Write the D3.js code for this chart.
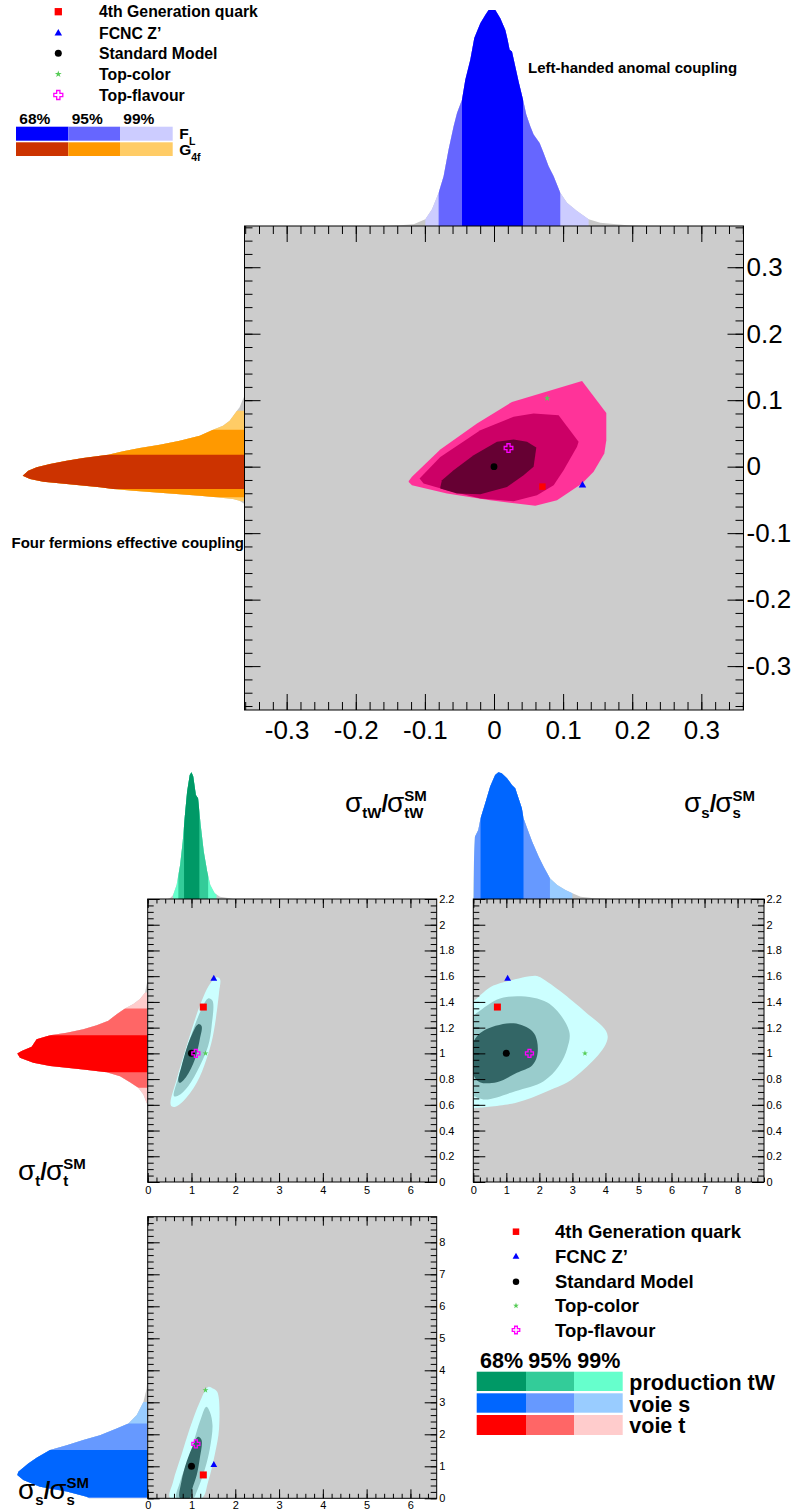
<!DOCTYPE html>
<html><head><meta charset="utf-8">
<script src="https://cdn.jsdelivr.net/npm/d3@7"></script>
<style>body{margin:0;background:#fff}svg{display:block}</style>
</head><body><svg id="c" width="795" height="1511"></svg>
<script>
// ================= DATA =================
const modelNames = ["4th Generation quark", "FCNC Z’", "Standard Model", "Top-color", "Top-flavour"];
const modelFL    = [0.070, 0.128, 0.000, 0.077, 0.021];
const modelG4f   = [-0.030, -0.028, 0.000, 0.103, 0.028];
const modelSigmaTW = [1.27, 1.51, 1.00, 1.32, 1.10];
const modelSigmaT  = [1.36, 1.58, 1.00, 1.00, 1.00];
const modelSigmaS  = [0.73, 1.04, 1.00, 3.38, 1.70];

const confLevels = ["68%", "95%", "99%"];
const mainTicks = [-0.3, -0.2, -0.1, 0, 0.1, 0.2, 0.3];
const sigmaTWTicks = [0, 1, 2, 3, 4, 5, 6];
const sigmaTTicks = [0, 0.2, 0.4, 0.6, 0.8, 1, 1.2, 1.4, 1.6, 1.8, 2, 2.2];
const sigmaSTicks = [0, 1, 2, 3, 4, 5, 6, 7, 8];

// marginal: left-handed anomalous coupling F_L
const flX = [-0.160,-0.1356,-0.1163,-0.0994,-0.0897,-0.0801,-0.0729,-0.0657,-0.0584,-0.0535,-0.0463,-0.0415,-0.0343,-0.0285,-0.0198,-0.0126,-0.0078,0.0019,0.0091,0.0164,0.0197,0.0226,0.0260,0.0308,0.0356,0.0420,0.0467,0.0525,0.0573,0.0660,0.0718,0.0790,0.0863,0.0959,0.1056,0.1201,0.1369,0.1538,0.1925,0.220];
const flDensity = [0,0.003,0.008,0.031,0.077,0.153,0.230,0.353,0.460,0.521,0.583,0.675,0.767,0.867,0.936,0.974,0.997,0.997,0.959,0.905,0.859,0.813,0.805,0.736,0.667,0.583,0.514,0.460,0.422,0.383,0.337,0.276,0.230,0.153,0.107,0.069,0.031,0.015,0.003,0];
const flBands = [[-0.0463, 0.0420], [-0.0801, 0.0959], [-0.0994, 0.1369]];

// marginal: four-fermion effective coupling G_4f
const g4fY = [0.1068,0.0992,0.0892,0.0842,0.0692,0.0617,0.0556,0.0466,0.0391,0.0331,0.0281,0.0231,0.0180,0.0130,0.0090,0.0040,-0.0010,-0.0060,-0.0135,-0.0185,-0.0226,-0.0261,-0.0311,-0.0336,-0.0361,-0.0401,-0.0436,-0.0461,-0.0486,-0.0511,-0.0561];
const g4fDensity = [0,0.010,0.022,0.034,0.067,0.097,0.142,0.202,0.292,0.382,0.472,0.547,0.615,0.727,0.802,0.877,0.937,0.975,1.0,0.967,0.907,0.802,0.652,0.592,0.502,0.352,0.202,0.127,0.052,0.022,0];
const g4fBands = [[-0.0336, 0.0180], [-0.0461, 0.0556], [-0.0520, 0.0842]];

// 2D confidence contours F_L (x) vs G_4f (y)
const mainC99 = [[-0.1234,-0.0214],[-0.1187,-0.0153],[-0.0777,0.0259],[-0.0246,0.0650],[0.0260,0.0974],[0.1274,0.1290],[0.1625,0.0809],[0.1625,0.0398],[0.1596,0.0198],[0.1441,-0.0078],[0.1274,-0.0253],[0.0912,-0.0504],[0.0598,-0.0589],[-0.0054,-0.0504],[-0.0680,-0.0403],[-0.1187,-0.0278],[-0.1234,-0.0229]];
const mainC95 = [[-0.1077,-0.0177],[-0.0777,0.0147],[-0.0198,0.0549],[0.0284,0.0749],[0.0573,0.0800],[0.0935,0.0774],[0.1224,0.0373],[0.1201,0.0298],[0.1007,-0.0053],[0.0863,-0.0278],[0.0622,-0.0429],[0.0284,-0.0519],[-0.0198,-0.0478],[-0.0680,-0.0353],[-0.1019,-0.0253]];
const mainC68 = [[-0.0777,-0.0304],[-0.0753,-0.0203],[-0.0585,-0.0053],[-0.0295,0.0173],[0.0043,0.0373],[0.0284,0.0409],[0.0478,0.0373],[0.0612,0.0289],[0.0573,-0.0003],[0.0428,-0.0128],[0.0188,-0.0304],[-0.0198,-0.0414],[-0.0535,-0.0403],[-0.0777,-0.0328]];

// marginal: sigma_tW / sigma_tW^SM (production tW)
const twX = [0.45,0.51,0.58,0.66,0.74,0.80,0.85,0.90,0.96,1.00,1.04,1.10,1.15,1.21,1.28,1.36,1.43,1.53,1.65,1.87,1.95];
const twDensity = [0,0.005,0.032,0.110,0.268,0.453,0.663,0.847,0.979,1.0,0.966,0.821,0.795,0.584,0.374,0.216,0.111,0.045,0.018,0.005,0];
const twBands = [[0.83, 1.18], [0.70, 1.38], [0.58, 1.57]];

// marginal: sigma_t / sigma_t^SM (voie t)
const tY = [1.578,1.474,1.422,1.383,1.349,1.305,1.253,1.219,1.188,1.161,1.141,1.109,1.052,1.018,0.998,0.966,0.927,0.901,0.875,0.854,0.823,0.776,0.732,0.680,0.615,0.588];
const tDensity = [0,0.020,0.059,0.110,0.174,0.238,0.302,0.391,0.494,0.621,0.749,0.852,0.890,0.967,1.0,0.980,0.877,0.749,0.494,0.315,0.212,0.136,0.072,0.033,0.008,0];
const tBands = [[0.854, 1.141], [0.732, 1.349], [0.615, 1.474]];

// marginal: sigma_s / sigma_s^SM (voie s), above right panel
const sX = [0.0,0.02,0.05,0.15,0.22,0.36,0.51,0.66,0.76,0.86,1.02,1.17,1.27,1.37,1.47,1.52,1.63,1.78,1.98,2.13,2.32,2.54,2.79,3.0,3.25,3.66,4.2];
const sDensity = [0.01,0.295,0.492,0.545,0.637,0.755,0.887,0.979,1.0,0.992,0.953,0.900,0.874,0.795,0.716,0.637,0.558,0.453,0.334,0.255,0.163,0.111,0.071,0.045,0.018,0.005,0];
const sBands = [[0.22, 1.52], [0.02, 2.32], [0.0, 3.0]];

// marginal: sigma_s / sigma_s^SM (voie s), left of bottom panel
const sY2 = [3.95,3.43,3.01,2.60,2.34,2.18,1.97,1.82,1.66,1.51,1.27,1.09,0.83,0.73,0.57,0.36,0.21,0.05,0.0];
const sDensity2 = [0,0.008,0.033,0.084,0.148,0.238,0.366,0.494,0.621,0.749,0.852,0.916,0.992,1.0,0.954,0.826,0.621,0.468,0.45];
const sBands2 = [[0.03, 1.51], [0.0, 2.34], [0.0, 3.01]];

// 2D contours sigma_tW (x) vs sigma_t (y)
const twtC99 = [[0.547,0.588],[0.52,0.615],[0.66,0.797],[0.888,1.057],[1.19,1.37],[1.42,1.539],[1.57,1.591],[1.65,1.578],[1.63,1.474],[1.49,1.135],[1.34,0.953],[1.12,0.771],[0.81,0.627],[0.62,0.583]];
const twtC95 = [[0.60,0.667],[0.736,0.849],[0.96,1.109],[1.23,1.344],[1.38,1.427],[1.48,1.409],[1.46,1.213],[1.38,1.057],[1.19,0.901],[0.925,0.745],[0.70,0.672]];
const twtC68 = [[0.70,0.784],[0.774,0.901],[0.964,1.109],[1.153,1.227],[1.23,1.213],[1.19,1.109],[1.077,0.953],[0.888,0.823],[0.736,0.771]];

// 2D contours sigma_s (x) vs sigma_t (y)
const stC99 = [[0,0.576],[0,1.409],[0.02,1.409],[0.51,1.513],[0.915,1.552],[1.88,1.604],[2.03,1.591],[3.35,1.331],[4.07,1.13],[3.05,0.81],[2.24,0.706],[1.27,0.615],[0.05,0.576]];
const stC95 = [[0,0.667],[0,1.279],[0.20,1.331],[0.915,1.435],[2.24,1.396],[2.90,1.174],[2.85,1.044],[2.59,0.901],[2.13,0.784],[1.27,0.706],[0.36,0.641],[0.02,0.667]];
const stC68 = [[0,0.836],[0,1.084],[0.30,1.174],[1.22,1.234],[1.78,1.174],[1.93,1.096],[1.93,0.979],[1.78,0.906],[1.32,0.849],[0.71,0.776],[0.20,0.776]];

// 2D contours sigma_tW (x) vs sigma_s (y)
const twsC99 = [[0.51,0],[0.58,0.52],[0.77,1.35],[0.96,2.18],[1.19,3.01],[1.38,3.48],[1.49,3.43],[1.59,3.32],[1.63,2.18],[1.53,1.35],[1.38,0.52],[1.23,0]];
const twsC95 = [[0.66,0],[0.74,0.52],[0.96,1.35],[1.19,2.39],[1.34,2.86],[1.42,2.70],[1.48,2.28],[1.42,1.56],[1.31,0.935],[1.12,0.21],[1.04,0]];
const twsC68 = [[0.736,0],[0.77,0.52],[0.888,1.14],[1.04,1.66],[1.15,1.92],[1.23,1.82],[1.19,1.25],[1.12,0.73],[1.02,0.31],[0.96,0]];

// ================= STYLE =================
const FONT = "'Liberation Sans', Arial, Helvetica, sans-serif";
const BG = "#cccccc", TAIL = "#c8c8c8";
const markerTypes = ["square", "triangle", "circle", "star", "cross"];
const markerColors = ["#ff0000", "#0000ff", "#000000", "#55cc55", "#ff00ff"];
const colFL = ["#0000ff", "#6666ff", "#ccccff"];
const colG4f = ["#cc3300", "#ff9900", "#ffcc66"];
const colTW = ["#009966", "#33cc99", "#66ffcc"];
const colS = ["#0066ff", "#6699ff", "#99ccff"];
const colT = ["#ff0000", "#ff6666", "#ffcccc"];
const colPink = ["#660033", "#cc0066", "#ff3399"];
const colTeal = ["#336666", "#99cccc", "#ccffff"];

const svg = d3.select("#c").attr("font-family", FONT);
let clipN = 0;

// ================= HELPERS =================
function marker(g, type, color, cx, cy, s) {
  if (type === "square") {
    g.append("rect").attr("x", cx - s/2).attr("y", cy - s/2).attr("width", s).attr("height", s).attr("fill", color);
  } else if (type === "triangle") {
    g.append("path").attr("d", d3.symbol(d3.symbolTriangle, 0.433 * s * s)()).attr("transform", `translate(${cx},${cy})`).attr("fill", color);
  } else if (type === "circle") {
    g.append("circle").attr("cx", cx).attr("cy", cy).attr("r", s/2).attr("fill", color);
  } else if (type === "star") {
    g.append("path").attr("d", d3.symbol(d3.symbolStar, 0.3 * s * s)()).attr("transform", `translate(${cx},${cy})`).attr("fill", color);
  } else {
    const a = s/2, b = s/5.5;
    const pts = [[-b,-a],[b,-a],[b,-b],[a,-b],[a,b],[b,b],[b,a],[-b,a],[-b,b],[-a,b],[-a,-b],[-b,-b]];
    g.append("path").attr("d", "M" + pts.map(p => [cx + p[0], cy + p[1]].join(",")).join("L") + "Z")
      .attr("fill", "none").attr("stroke", color).attr("stroke-width", 1.3);
  }
}

function clipRect(x, y, w, h) {
  const id = "cl" + (clipN++);
  svg.append("clipPath").attr("id", id).append("rect").attr("x", x).attr("y", y).attr("width", w).attr("height", h);
  return `url(#${id})`;
}

function hMarginal(xs, vals, dens, baseY, height, bands, colors) {
  const h = d3.scaleLinear([0, 1], [baseY, baseY - height]);
  const idx = d3.range(vals.length);
  const area = d3.area().x(i => xs(vals[i])).y0(baseY).y1(i => h(dens[i]));
  const g = svg.append("g");
  g.append("path").attr("d", area(idx)).attr("fill", TAIL);
  [2, 1, 0].forEach(k => {
    const [lo, hi] = bands[k];
    g.append("path").attr("d", area(idx)).attr("fill", colors[k])
      .attr("clip-path", clipRect(xs(lo), baseY - height - 5, xs(hi) - xs(lo), height + 5));
  });
}

function vMarginal(ys, vals, dens, baseX, tipX, bands, colors) {
  const w = d3.scaleLinear([0, 1], [baseX, tipX]);
  const idx = d3.range(vals.length);
  const area = d3.area().y(i => ys(vals[i])).x0(baseX).x1(i => w(dens[i]));
  const g = svg.append("g");
  g.append("path").attr("d", area(idx)).attr("fill", TAIL);
  [2, 1, 0].forEach(k => {
    const [lo, hi] = bands[k];
    g.append("path").attr("d", area(idx)).attr("fill", colors[k])
      .attr("clip-path", clipRect(tipX - 5, ys(hi), baseX - tipX + 5, ys(lo) - ys(hi)));
  });
}

function fmt(d) { return String(+d.toFixed(2)); }

function frameAxes(p, xs, ys, xMaj, xMin, yMaj, yMin, o) {
  const g = svg.append("g");
  const add = (axis, tx, ty, labels) => {
    const a = g.append("g").attr("transform", `translate(${tx},${ty})`).call(axis);
    a.select(".domain").remove();
    a.attr("font-family", FONT).attr("font-size", o.fs);
    a.selectAll("line").attr("stroke", "#000").attr("stroke-width", 1);
    a.selectAll("text").attr("fill", "#000");
    if (!labels) a.selectAll("text").remove();
  };
  add(d3.axisBottom(xs).tickValues(xMin).tickSize(-o.xMin), 0, p.y1, false);
  add(d3.axisBottom(xs).tickValues(xMaj).tickSize(-o.xMaj).tickPadding(o.xPad).tickFormat(fmt), 0, p.y1, true);
  add(d3.axisTop(xs).tickValues(xMin).tickSize(-o.xMin), 0, p.y0, false);
  add(d3.axisTop(xs).tickValues(xMaj).tickSize(-o.xMaj), 0, p.y0, false);
  add(d3.axisLeft(ys).tickValues(yMin).tickSize(-o.yMin), p.x0, 0, false);
  add(d3.axisLeft(ys).tickValues(yMaj).tickSize(-o.yMaj), p.x0, 0, false);
  add(d3.axisRight(ys).tickValues(yMin).tickSize(-o.yMin), p.x1, 0, false);
  add(d3.axisRight(ys).tickValues(yMaj).tickSize(-o.yMaj).tickPadding(o.yPad).tickFormat(fmt), p.x1, 0, true);
  g.append("rect").attr("x", p.x0).attr("y", p.y0).attr("width", p.x1 - p.x0).attr("height", p.y1 - p.y0)
    .attr("fill", "none").attr("stroke", "#000").attr("stroke-width", 1);
}

function contours(p, xs, ys, polys, colors, curve) {
  const clip = clipRect(p.x0, p.y0, p.x1 - p.x0, p.y1 - p.y0);
  const g = svg.append("g").attr("clip-path", clip);
  const line = d3.line().x(d => xs(d[0])).y(d => ys(d[1])).curve(curve);
  [2, 1, 0].forEach(k => g.append("path").attr("d", line(polys[k])).attr("fill", colors[k]));
}

function sigmaLabel(x, base, sub1, sub2, big, small) {
  const g = svg.append("g").attr("fill", "#000");
  let cx = x;
  const put = (txt, y, size, bold) => {
    const t = g.append("text").attr("x", cx).attr("y", y).attr("font-size", size)
      .attr("font-weight", bold ? "bold" : "normal").text(txt);
    return t.node().getComputedTextLength();
  };
  cx += put("σ", base, big, false);
  cx += put(sub1, base + small * 0.42, small, true);
  cx += put("/", base, big * 0.85, true) - 1;
  cx += put("σ", base, big, false);
  put(sub2, base + small * 0.42, small, true);
  put("SM", base - big * 0.4, small, true);
}

function panelBg(p) {
  svg.append("rect").attr("x", p.x0).attr("y", p.y0).attr("width", p.x1 - p.x0).attr("height", p.y1 - p.y0).attr("fill", BG);
}

// ================= MAIN PANEL =================
const M = {x0: 244.5, x1: 743.5, y0: 226, y1: 710};
const xMain = d3.scaleLinear([-0.361, 0.361], [M.x0, M.x1]);
const yMain = d3.scaleLinear([-0.366, 0.362], [M.y1, M.y0]);
const mainMinor = d3.range(-36, 37, 2).map(v => v / 100);

hMarginal(xMain, flX, flDensity, M.y0, 216.7, flBands, colFL);
vMarginal(yMain, g4fY, g4fDensity, M.x0, 22.7, g4fBands, colG4f);
panelBg(M);
contours(M, xMain, yMain, [mainC68, mainC95, mainC99], colPink, d3.curveLinearClosed);
frameAxes(M, xMain, yMain, mainTicks, mainMinor, mainTicks, mainMinor,
  {xMaj: 16, xMin: 8, yMaj: 16, yMin: 8, fs: 26, xPad: 11, yPad: 3});
modelNames.forEach((n, i) => {
  const sz = [6.5, 7.5, 6.8, 6.5, 8.6][i];
  marker(svg, markerTypes[i], markerColors[i], xMain(modelFL[i]), yMain(modelG4f[i]), sz);
});
svg.append("text").attr("x", 528).attr("y", 73).attr("font-size", 15).attr("font-weight", "bold").text("Left-handed anomal coupling");
svg.append("text").attr("x", 11.5).attr("y", 548).attr("font-size", 15).attr("font-weight", "bold").text("Four fermions effective coupling");

// top-left legend
modelNames.forEach((n, i) => {
  const y = [11.7, 33.3, 53.3, 74, 95][i];
  marker(svg, markerTypes[i], markerColors[i], 58.3, y, [7.3, 7.5, 7, 7, 9][i]);
  svg.append("text").attr("x", 99).attr("y", y + 5.5).attr("font-size", 15.8).attr("font-weight", "bold").text(n);
});
const cTopX = [16, 68.3, 120, 172.7];
confLevels.forEach((c, k) => {
  svg.append("text").attr("x", [19.3, 71.7, 123.3][k]).attr("y", 124).attr("font-size", 15.5).attr("font-weight", "bold").text(c);
  svg.append("rect").attr("x", cTopX[k]).attr("y", 126.7).attr("width", cTopX[k+1] - cTopX[k]).attr("height", 14).attr("fill", colFL[k]);
  svg.append("rect").attr("x", cTopX[k]).attr("y", 142.3).attr("width", cTopX[k+1] - cTopX[k]).attr("height", 13.7).attr("fill", colG4f[k]);
});
svg.append("text").attr("x", 179.3).attr("y", 139.3).attr("font-size", 15.5).attr("font-weight", "bold").text("F");
svg.append("text").attr("x", 189).attr("y", 145.3).attr("font-size", 10.5).attr("font-weight", "bold").text("L");
svg.append("text").attr("x", 179.3).attr("y", 154.5).attr("font-size", 15.5).attr("font-weight", "bold").text("G");
svg.append("text").attr("x", 191.2).attr("y", 160.5).attr("font-size", 10.5).attr("font-weight", "bold").text("4f");

// ================= LOWER PANELS =================
const BL = {x0: 147.7, x1: 436.7, y0: 899, y1: 1182};
const BR = {x0: 473.3, x1: 764, y0: 899, y1: 1182};
const BB = {x0: 147.7, x1: 436.7, y0: 1216.7, y1: 1498.3};
const xTW = d3.scaleLinear([0, 6.6], [BL.x0, BL.x1]);
const yT = d3.scaleLinear([0, 2.2], [BL.y1, BL.y0]);
const xS = d3.scaleLinear([0, 8.8], [BR.x0, BR.x1]);
const yTR = d3.scaleLinear([0, 2.2], [BR.y1, BR.y0]);
const xTWB = d3.scaleLinear([0, 6.6], [BB.x0, BB.x1]);
const yS = d3.scaleLinear([0, 8.8], [BB.y1, BB.y0]);

const twMinor = d3.range(0, 33).map(v => v * 0.2);
const tMinor = d3.range(0, 45).map(v => v * 0.05);
const sMinor = d3.range(0, 45).map(v => v * 0.2);
const smallAx = {xMaj: 9, xMin: 4.5, yMaj: 12, yMin: 6, fs: 11, xPad: 4.5, yPad: 2.5};
const smallAxB = Object.assign({}, smallAx, {xPad: 2.5});

// marginals
hMarginal(xTW, twX, twDensity, BL.y0, 126.7, twBands, colTW);
vMarginal(yT, tY, tDensity, BL.x0, 17.3, tBands, colT);
hMarginal(xS, sX, sDensity, BR.y0, 126.7, sBands, colS);
vMarginal(yS, sY2, sDensity2, BB.x0, 17.3, sBands2, colS);

// panels
const smooth = d3.curveCatmullRomClosed.alpha(0.5);
[BL, BR, BB].forEach(panelBg);
contours(BL, xTW, yT, [twtC68, twtC95, twtC99], colTeal, smooth);
contours(BR, xS, yTR, [stC68, stC95, stC99], colTeal, smooth);
contours(BB, xTWB, yS, [twsC68, twsC95, twsC99], colTeal, smooth);
frameAxes(BL, xTW, yT, sigmaTWTicks, twMinor, sigmaTTicks, tMinor, smallAx);
frameAxes(BR, xS, yTR, sigmaSTicks, sMinor, sigmaTTicks, tMinor, smallAx);
frameAxes(BB, xTWB, yS, sigmaTWTicks, twMinor, sigmaSTicks, sMinor, smallAxB);

const order = [2, 0, 1, 3, 4];
order.forEach(i => {
  const sz = [7, 6.8, 7, 6, 8][i];
  marker(svg, markerTypes[i], markerColors[i], xTW(modelSigmaTW[i]), yT(modelSigmaT[i]), sz);
  marker(svg, markerTypes[i], markerColors[i], xS(modelSigmaS[i]), yTR(modelSigmaT[i]), sz);
  marker(svg, markerTypes[i], markerColors[i], xTWB(modelSigmaTW[i]), yS(modelSigmaS[i]), sz);
});

// axis titles
sigmaLabel(345, 811.7, "tW", "tW", 28, 15);
sigmaLabel(684, 811.7, "s", "s", 28, 15);
sigmaLabel(18, 1180, "t", "t", 28, 15);
sigmaLabel(18, 1499, "s", "s", 28, 15);

// bottom-right legend
modelNames.forEach((n, i) => {
  const y = [1231.7, 1256.7, 1281.7, 1305.7, 1330][i];
  marker(svg, markerTypes[i], markerColors[i], 516, y, [6.5, 6.8, 6.5, 6, 7.5][i]);
  svg.append("text").attr("x", 555).attr("y", y + 6.5).attr("font-size", 18.5).attr("font-weight", "bold").text(n);
});
const cBotX = [476.7, 526, 574, 622.7];
const rows = [[1371.7, 1391], [1393.3, 1412.7], [1415, 1435]];
const rowCols = [colTW, colS, colT];
const rowNames = ["production tW", "voie s", "voie t"];
confLevels.forEach((c, k) => {
  svg.append("text").attr("x", [480, 528.3, 577.3][k]).attr("y", 1368).attr("font-size", 21.5).attr("font-weight", "bold").text(c);
  rows.forEach((r, j) => {
    svg.append("rect").attr("x", cBotX[k]).attr("y", r[0]).attr("width", cBotX[k+1] - cBotX[k]).attr("height", r[1] - r[0]).attr("fill", rowCols[j][k]);
  });
});
rowNames.forEach((n, j) => {
  svg.append("text").attr("x", 629.3).attr("y", [1390, 1411.5, 1433][j]).attr("font-size", 21.5).attr("font-weight", "bold").text(n);
});
</script></body></html>
